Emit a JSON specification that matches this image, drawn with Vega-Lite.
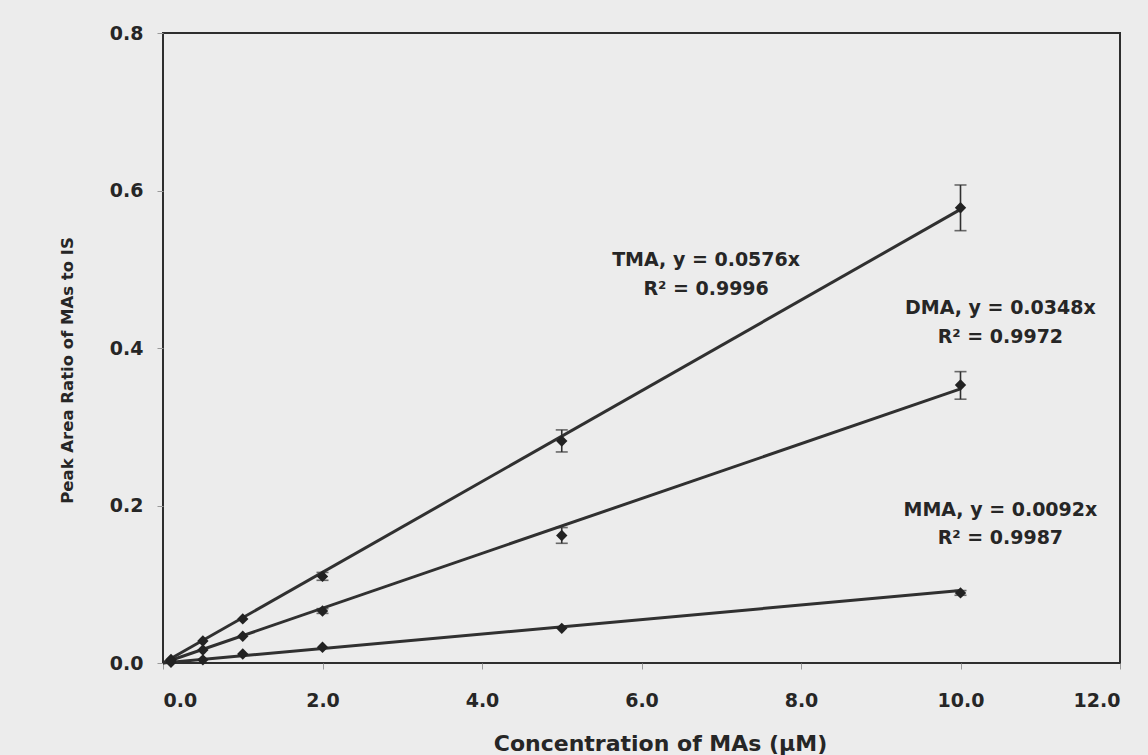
{
  "$schema": "https://vega.github.io/schema/vega-lite/v6.json",
  "width": 957,
  "height": 630,
  "autosize": {"type": "none"},
  "padding": {"left": 163, "top": 33, "right": 28, "bottom": 92},
  "background": "#ececec",
  "config": {
    "view": {"stroke": "#2e2e2e", "strokeWidth": 2, "fill": null},
    "font": "DejaVu Sans",
    "axis": {
      "grid": false,
      "domain": false,
      "tickColor": "#9a9a9a",
      "tickWidth": 1,
      "tickSize": 6,
      "labelFont": "DejaVu Sans",
      "labelFontWeight": "bold",
      "labelFontSize": 19,
      "labelColor": "#262626",
      "titleFont": "DejaVu Sans",
      "titleFontWeight": "bold",
      "titleColor": "#262626"
    }
  },
  "datasets": {
    "fits": [
      {"analyte": "TMA", "conc": 0, "ratio": 0},
      {"analyte": "TMA", "conc": 10, "ratio": 0.576},
      {"analyte": "DMA", "conc": 0, "ratio": 0},
      {"analyte": "DMA", "conc": 10, "ratio": 0.348},
      {"analyte": "MMA", "conc": 0, "ratio": 0},
      {"analyte": "MMA", "conc": 10, "ratio": 0.092}
    ],
    "points": [
      {"analyte": "TMA", "conc": 0.1, "ratio": 0.0045},
      {"analyte": "TMA", "conc": 0.5, "ratio": 0.028},
      {"analyte": "TMA", "conc": 1, "ratio": 0.056},
      {"analyte": "TMA", "conc": 2, "ratio": 0.110},
      {"analyte": "TMA", "conc": 5, "ratio": 0.282},
      {"analyte": "TMA", "conc": 10, "ratio": 0.578},
      {"analyte": "DMA", "conc": 0.1, "ratio": 0.0035},
      {"analyte": "DMA", "conc": 0.5, "ratio": 0.0165},
      {"analyte": "DMA", "conc": 1, "ratio": 0.034},
      {"analyte": "DMA", "conc": 2, "ratio": 0.066},
      {"analyte": "DMA", "conc": 5, "ratio": 0.162},
      {"analyte": "DMA", "conc": 10, "ratio": 0.353},
      {"analyte": "MMA", "conc": 0.1, "ratio": 0.001},
      {"analyte": "MMA", "conc": 0.5, "ratio": 0.004},
      {"analyte": "MMA", "conc": 1, "ratio": 0.0114},
      {"analyte": "MMA", "conc": 2, "ratio": 0.020},
      {"analyte": "MMA", "conc": 5, "ratio": 0.044},
      {"analyte": "MMA", "conc": 10, "ratio": 0.089}
    ],
    "errors": [
      {"analyte": "TMA", "conc": 2, "low": 0.105, "high": 0.115},
      {"analyte": "TMA", "conc": 5, "low": 0.268, "high": 0.296},
      {"analyte": "TMA", "conc": 10, "low": 0.549, "high": 0.607},
      {"analyte": "DMA", "conc": 2, "low": 0.063, "high": 0.069},
      {"analyte": "DMA", "conc": 5, "low": 0.152, "high": 0.172},
      {"analyte": "DMA", "conc": 10, "low": 0.335, "high": 0.370},
      {"analyte": "MMA", "conc": 10, "low": 0.086, "high": 0.092}
    ],
    "labels": [
      {"conc": 6.81, "ratio": 0.512, "text": "TMA, y = 0.0576x"},
      {"conc": 6.81, "ratio": 0.475, "text": "R² = 0.9996"},
      {"conc": 10.5, "ratio": 0.451, "text": "DMA, y = 0.0348x"},
      {"conc": 10.5, "ratio": 0.414, "text": "R² = 0.9972"},
      {"conc": 10.5, "ratio": 0.194, "text": "MMA, y = 0.0092x"},
      {"conc": 10.5, "ratio": 0.159, "text": "R² = 0.9987"}
    ]
  },
  "encoding": {
    "x": {
      "field": "conc",
      "type": "quantitative",
      "scale": {"domain": [0, 12], "nice": false, "zero": true},
      "axis": {
        "title": "Concentration of MAs (µM)",
        "values": [0, 2, 4, 6, 8, 10, 12],
        "format": ".1f",
        "labelBaseline": "alphabetic",
        "labelPadding": 37,
        "titleFontSize": 22,
        "titleBaseline": "alphabetic",
        "titleX": 497,
        "titleY": 87
      }
    },
    "y": {
      "field": "ratio",
      "type": "quantitative",
      "scale": {"domain": [0, 0.8], "nice": false},
      "axis": {
        "title": "Peak Area Ratio of MAs to IS",
        "values": [0, 0.2, 0.4, 0.6, 0.8],
        "format": ".1f",
        "labelPadding": 14,
        "titleFontSize": 16.5,
        "titleBaseline": "middle",
        "titleX": -96,
        "titleY": 337
      }
    }
  },
  "layer": [
    {
      "data": {"name": "fits"},
      "mark": {"type": "line", "color": "#303030", "strokeWidth": 3},
      "encoding": {"detail": {"field": "analyte"}}
    },
    {
      "data": {"name": "errors"},
      "mark": {
        "type": "errorbar",
        "color": "#303030",
        "thickness": 1.6,
        "ticks": {"size": 12, "thickness": 1.6, "color": "#303030"}
      },
      "encoding": {
        "y": {"field": "low", "type": "quantitative"},
        "y2": {"field": "high"},
        "detail": {"field": "analyte"}
      }
    },
    {
      "data": {"name": "points"},
      "mark": {"type": "point", "shape": "diamond", "filled": true, "size": 130, "color": "#222222", "opacity": 1},
      "encoding": {"detail": {"field": "analyte"}}
    },
    {
      "data": {"name": "labels"},
      "mark": {
        "type": "text",
        "font": "DejaVu Sans",
        "fontWeight": "bold",
        "fontSize": 19,
        "color": "#262626",
        "align": "center",
        "baseline": "middle"
      },
      "encoding": {"text": {"field": "text"}}
    }
  ]
}
